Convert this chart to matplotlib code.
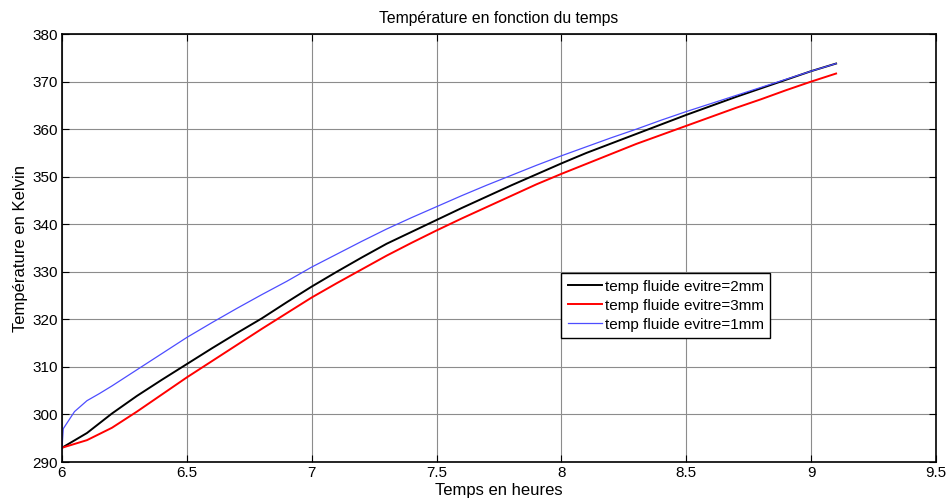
import matplotlib.pyplot as plt

# temps en heures (courbes 2mm et 3mm)
temps = [6.0, 6.1, 6.2, 6.3, 6.4, 6.5, 6.6, 6.7, 6.8, 6.9, 7.0, 7.1, 7.2, 7.3,
         7.4, 7.5, 7.6, 7.7, 7.8, 7.9, 8.0, 8.1, 8.2, 8.3, 8.4, 8.5, 8.6, 8.7,
         8.8, 8.9, 9.0, 9.1]

temp_2mm = [293.0, 296.1, 300.2, 303.9, 307.3, 310.6, 313.9, 317.1, 320.2, 323.6,
            326.9, 330.0, 333.0, 335.9, 338.4, 340.9, 343.4, 345.8, 348.2, 350.5,
            352.8, 355.0, 357.0, 359.0, 361.0, 363.0, 364.9, 366.8, 368.6, 370.4,
            372.2, 373.8]

temp_3mm = [293.0, 294.6, 297.2, 300.6, 304.2, 307.8, 311.2, 314.6, 318.0, 321.3,
            324.6, 327.6, 330.5, 333.4, 336.1, 338.7, 341.2, 343.6, 346.0, 348.4,
            350.6, 352.7, 354.8, 356.9, 358.8, 360.7, 362.6, 364.5, 366.3, 368.2,
            370.0, 371.7]

# courbe 1mm (montée rapide au début)
temps_1mm = [6.0, 6.005, 6.05, 6.1, 6.15, 6.2, 6.3, 6.4, 6.5, 6.6, 6.7, 6.8, 6.9,
             7.0, 7.1, 7.2, 7.3, 7.4, 7.5, 7.6, 7.7, 7.8, 7.9, 8.0, 8.1, 8.2, 8.3,
             8.4, 8.5, 8.6, 8.7, 8.8, 8.9, 9.0, 9.1]
temp_1mm = [293.0, 297.0, 300.6, 302.9, 304.4, 306.0, 309.4, 312.8, 316.2, 319.3,
            322.3, 325.2, 328.0, 331.0, 333.7, 336.4, 339.0, 341.4, 343.7, 346.0,
            348.2, 350.3, 352.4, 354.4, 356.3, 358.2, 360.0, 361.9, 363.7, 365.4,
            367.1, 368.8, 370.5, 372.2, 373.8]

plt.rcParams['font.family'] = ['Liberation Sans', 'DejaVu Sans']

fig = plt.figure(figsize=(9.48, 5.01), dpi=100)
ax = fig.add_axes([0.0654, 0.0778, 0.9219, 0.8542])

ax.plot(temps, temp_2mm, color='black', lw=1.4, label='temp fluide evitre=2mm')
ax.plot(temps, temp_3mm, color='red', lw=1.4, label='temp fluide evitre=3mm')
ax.plot(temps_1mm, temp_1mm, color='#4d4dff', lw=0.9, label='temp fluide evitre=1mm')

ax.set_xlim(6, 9.5)
ax.set_ylim(290, 380)
ax.set_xticks([6, 6.5, 7, 7.5, 8, 8.5, 9, 9.5])
ax.set_xticklabels(['6', '6.5', '7', '7.5', '8', '8.5', '9', '9.5'])
ax.set_yticks(range(290, 381, 10))
ax.tick_params(direction='in', top=True, right=True, labelsize=11, length=5, pad=3)
ax.grid(True, color='#8c8c8c', lw=0.8)
for s in ax.spines.values():
    s.set_linewidth(1.2)

ax.set_title('Température en fonction du temps', fontsize=11.3, pad=8)
ax.set_xlabel('Temps en heures', fontsize=12, labelpad=2)
ax.set_ylabel('Température en Kelvin', fontsize=12, labelpad=3)

leg = ax.legend(loc='upper left', bbox_to_anchor=(0.571, 0.442), fontsize=11,
                fancybox=False, framealpha=1, edgecolor='black',
                borderaxespad=0, handlelength=2.2, handletextpad=0.2,
                labelspacing=0.32, borderpad=0.45)
leg.get_frame().set_linewidth(1.0)

fig.savefig('out.png', dpi=100)
